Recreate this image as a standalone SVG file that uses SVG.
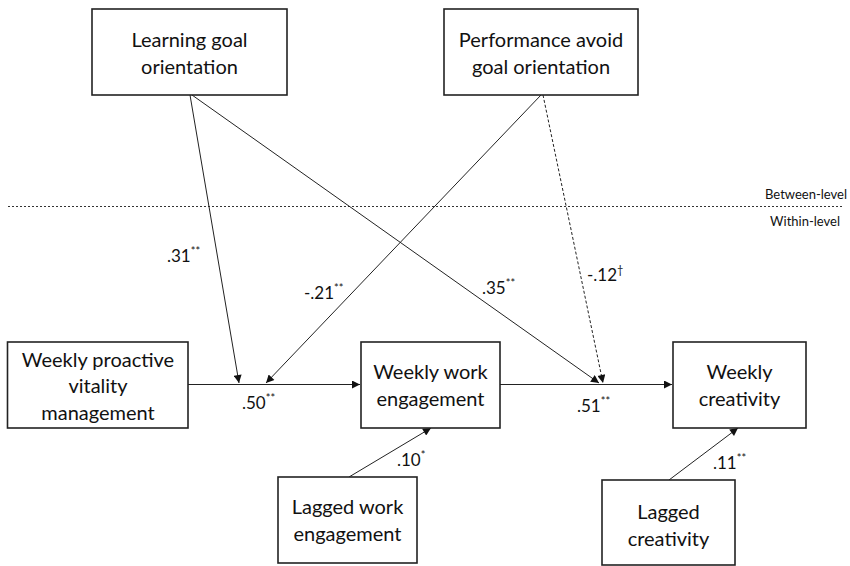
<svg xmlns="http://www.w3.org/2000/svg" width="850" height="566" viewBox="0 0 850 566">
<style>
.box{fill:#fff;stroke:#222;stroke-width:1.6}
.t{font-family:Lato,"Open Sans","Liberation Sans",sans-serif;font-size:20px;fill:#111;text-anchor:middle}
.lbl{font-family:Lato,"Open Sans","Liberation Sans",sans-serif;font-size:17px;fill:#111}
.sup{font-size:11px}
.lv{font-family:Lato,"Open Sans","Liberation Sans",sans-serif;font-size:13px;fill:#111;text-anchor:end}
.c{stroke:#222;stroke-width:1;fill:none}
.d{stroke-dasharray:3,2}
</style>
<defs>
<marker id="ah" viewBox="0 0 10 10" refX="10" refY="5" markerWidth="9" markerHeight="8" markerUnits="userSpaceOnUse" orient="auto">
<path d="M0,0 L10,5 L0,10 z" fill="#111"/>
</marker>
</defs>
<rect width="850" height="566" fill="#fff"/>
<line x1="8" y1="206.5" x2="843" y2="206.5" stroke="#333" stroke-width="1" stroke-dasharray="2,2"/>
<text class="lv" x="847" y="199">Between-level</text>
<text class="lv" x="840" y="226">Within-level</text>
<g id="connectors">
<line class="c" x1="188" y1="384.5" x2="360" y2="384.5" marker-end="url(#ah)"/>
<line class="c" x1="500" y1="384.5" x2="672" y2="384.5" marker-end="url(#ah)"/>
<line class="c" x1="190" y1="95" x2="239" y2="383" marker-end="url(#ah)"/>
<line class="c" x1="192" y1="95" x2="599" y2="383" marker-end="url(#ah)"/>
<line class="c" x1="541" y1="95" x2="266" y2="383" marker-end="url(#ah)"/>
<line class="c d" x1="543" y1="95" x2="603" y2="383" marker-end="url(#ah)"/>
<line class="c" x1="349" y1="477" x2="431" y2="428" marker-end="url(#ah)"/>
<line class="c" x1="669" y1="480" x2="738" y2="428" marker-end="url(#ah)"/>
<text class="lbl" x="167" y="262">.31<tspan class="sup" dy="-7">**</tspan></text>
<text class="lbl" x="304" y="299">-.21<tspan class="sup" dy="-7">**</tspan></text>
<text class="lbl" x="482" y="294">.35<tspan class="sup" dy="-7">**</tspan></text>
<text class="lbl" x="587" y="281">-.12<tspan class="sup" dy="-7">†</tspan></text>
<text class="lbl" x="242" y="409">.50<tspan class="sup" dy="-7">**</tspan></text>
<text class="lbl" x="577" y="412">.51<tspan class="sup" dy="-7">**</tspan></text>
<text class="lbl" x="397" y="466">.10<tspan class="sup" dy="-7">*</tspan></text>
<text class="lbl" x="713" y="469">.11<tspan class="sup" dy="-7">**</tspan></text>
</g>
<g id="learning">
<rect class="box" x="92" y="9" width="195" height="86"/>
<text class="t" x="189.5" y="47">Learning goal</text>
<text class="t" x="189.5" y="74">orientation</text>
</g>
<g id="performance">
<rect class="box" x="444" y="9" width="194" height="86"/>
<text class="t" x="541" y="47">Performance avoid</text>
<text class="t" x="541" y="74">goal orientation</text>
</g>
<g id="vitality">
<rect class="box" x="7.5" y="342" width="180.5" height="86"/>
<text class="t" x="98" y="367">Weekly proactive</text>
<text class="t" x="98" y="393">vitality</text>
<text class="t" x="98" y="420">management</text>
</g>
<g id="engagement">
<rect class="box" x="361" y="342" width="139" height="86"/>
<text class="t" x="430.5" y="379">Weekly work</text>
<text class="t" x="430.5" y="406">engagement</text>
</g>
<g id="creativity">
<rect class="box" x="673" y="342" width="133" height="86"/>
<text class="t" x="739.5" y="379">Weekly</text>
<text class="t" x="739.5" y="406">creativity</text>
</g>
<g id="lagged-engagement">
<rect class="box" x="278" y="477" width="139" height="86"/>
<text class="t" x="347.5" y="514">Lagged work</text>
<text class="t" x="347.5" y="541">engagement</text>
</g>
<g id="lagged-creativity">
<rect class="box" x="602" y="480" width="133" height="85"/>
<text class="t" x="668.5" y="519">Lagged</text>
<text class="t" x="668.5" y="546">creativity</text>
</g>
</svg>
